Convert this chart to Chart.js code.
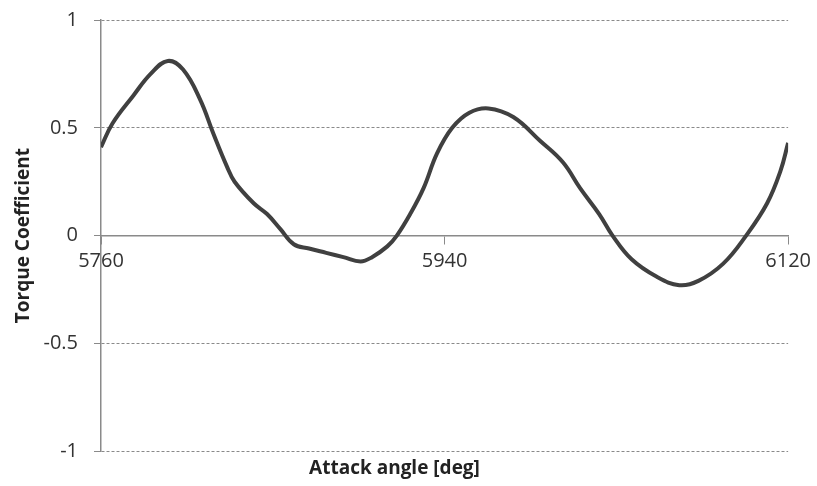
<!DOCTYPE html>
<html>
<head>
<meta charset="utf-8">
<script src="https://cdn.jsdelivr.net/npm/chart.js@4.4.0/dist/chart.umd.min.js"></script>
<style>
  html, body { margin: 0; padding: 0; background: #fff; }
  #wrap { width: 817px; height: 486px; }
</style>
</head>
<body>
<div id="wrap"><canvas id="torqueChart"></canvas></div>
<script>
// Attack angle [deg] and torque coefficient
const angles = [5760, 5766, 5777, 5786, 5795, 5803, 5812, 5819, 5826, 5830,
                5840, 5847, 5854, 5861, 5869, 5878, 5887, 5896, 5902, 5910,
                5915, 5922, 5929, 5936, 5944, 5953, 5963, 5976, 5990, 6002,
                6011, 6021, 6028, 6038, 6051, 6063, 6073, 6086, 6098, 6109,
                6116, 6120];
const torque = [0.41, 0.52, 0.65, 0.75, 0.81, 0.77, 0.63, 0.47, 0.32, 0.25,
                0.15, 0.10, 0.03, -0.04, -0.06, -0.08, -0.10, -0.12, -0.10, -0.05,
                0.00, 0.10, 0.22, 0.38, 0.50, 0.57, 0.59, 0.55, 0.44, 0.34,
                0.22, 0.10, 0.00, -0.11, -0.19, -0.23, -0.21, -0.13, 0.00, 0.15,
                0.30, 0.43];
const xTicks = [5760, 5940, 6120];
const yTicks = [-1, -0.5, 0, 0.5, 1];

const axisGray = '#8a8a8a';
Chart.defaults.font.family = "'Open Sans', sans-serif";

const points = angles.map((a, i) => ({ x: a, y: torque[i] }));

new Chart(document.getElementById('torqueChart').getContext('2d'), {
    type: 'line',
    data: {
        datasets: [{
            data: points,
            borderColor: '#404040',
            borderWidth: 4,
            pointRadius: 0,
            tension: 0.4,
            fill: false
        }]
    },
    options: {
        responsive: true,
        maintainAspectRatio: false,
        animation: false,
        layout: { padding: { top: 20, right: 28, left: 0, bottom: 0 } },
        plugins: {
            legend: { display: false },
            tooltip: { enabled: false },
            title: {
                display: true,
                position: 'bottom',
                text: 'Attack angle [deg]',
                color: '#222',
                font: { size: 19, weight: 'bold' },
                padding: { top: 6, bottom: 6 }
            }
        },
        scales: {
            x: {
                type: 'linear',
                position: { y: 0 },
                min: xTicks[0],
                max: xTicks[xTicks.length - 1],
                afterBuildTicks: function(scale) {
                    scale.ticks = xTicks.map(v => ({ value: v }));
                },
                border: { display: true, color: axisGray, width: 1.5 },
                grid: { drawOnChartArea: false, drawTicks: true, tickLength: 8, color: axisGray },
                ticks: {
                    color: '#333',
                    font: { size: 20 },
                    padding: 6,
                    maxRotation: 0,
                    callback: v => String(v)
                }
            },
            y: {
                min: -1,
                max: 1,
                afterBuildTicks: function(scale) {
                    scale.ticks = yTicks.map(v => ({ value: v }));
                },
                afterFit: function(scale) {
                    scale.width = 101;
                    scale.paddingTop = 0;
                    scale.paddingBottom = 0;
                },
                border: { display: true, color: axisGray, width: 1.5, dash: [3, 2] },
                grid: {
                    color: ctx => (ctx.tick && ctx.tick.value === 0) ? 'rgba(0,0,0,0)' : axisGray,
                    tickColor: axisGray,
                    tickLength: 7,
                    lineWidth: 1
                },
                ticks: {
                    color: '#333',
                    font: { size: 20 },
                    padding: 16,
                    callback: v => String(v)
                },
                title: {
                    display: true,
                    text: 'Torque Coefficient',
                    color: '#222',
                    font: { size: 19, weight: 'bold' },
                    padding: { top: 12, bottom: 0 }
                }
            }
        }
    }
});
</script>
</body>
</html>
